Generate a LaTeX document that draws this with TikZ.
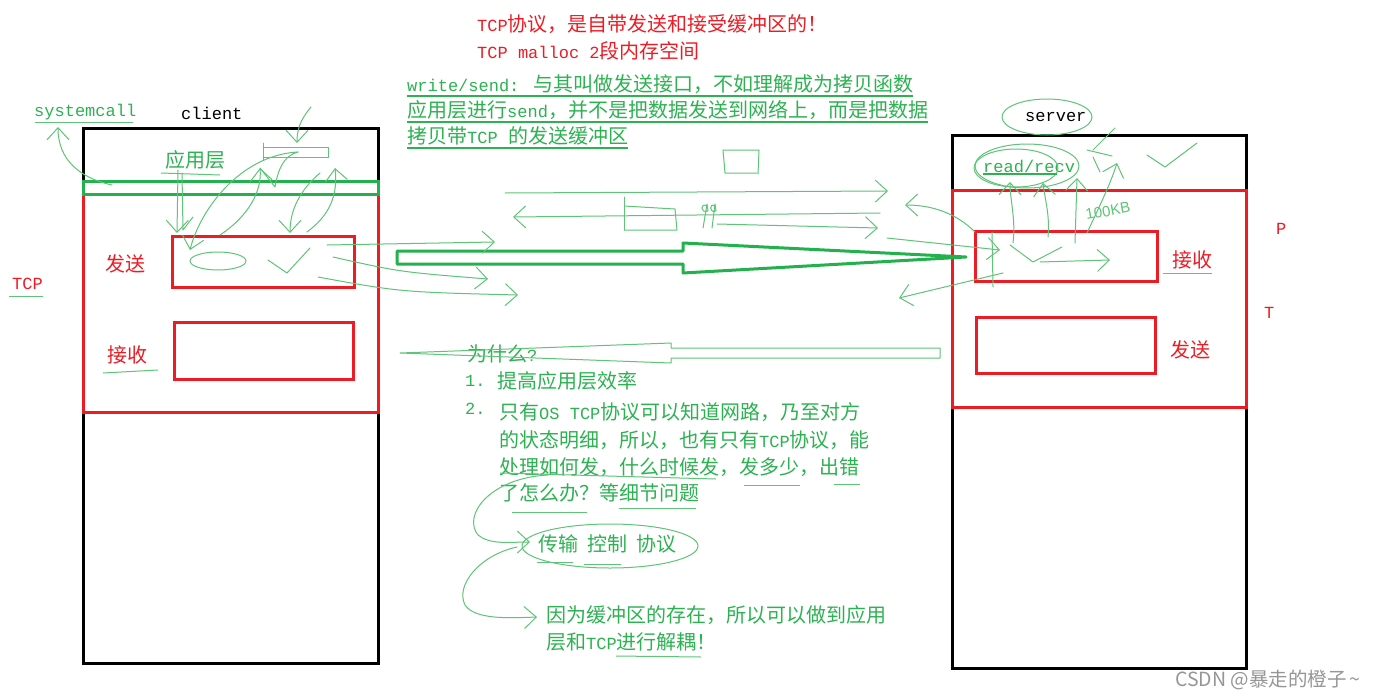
\documentclass[tikz,border=0pt]{standalone}
\usepackage{fontspec}
\setmainfont{Noto Sans CJK SC}
\newfontfamily\monof{Liberation Mono}[Scale=0.85]
\newfontfamily\handf{Liberation Sans}
\usetikzlibrary{arrows.meta,calc}
\definecolor{tred}{RGB}{237,28,36}
\definecolor{tgreen}{RGB}{34,177,76}
\definecolor{txtg}{RGB}{45,178,82}
\definecolor{skc}{RGB}{95,195,120}
\definecolor{wmc}{RGB}{150,150,150}
\newcommand{\m}[1]{{\monof #1}}
\begin{document}
\begin{tikzpicture}[x=1pt,y=-1pt,
  lbl/.style={anchor=west,inner sep=0pt,font=\fontsize{20}{24}\selectfont},
  redt/.style={lbl,text=tred},
  grnt/.style={lbl,text=txtg},
  blkt/.style={lbl,text=black},
  blackbox/.style={draw=black,line width=3pt,inner sep=0pt},
  redbox/.style={draw=tred,line width=3pt,inner sep=0pt},
  greenbox/.style={draw=tgreen,line width=3pt,inner sep=0pt},
  sk/.style={draw=skc,line width=1pt,line cap=round,line join=round},
  ska/.style={sk,-{Straight Barb[length=12pt,width=22pt]}},
  ul/.style={draw=skc,line width=1pt}
]
\useasboundingbox[fill=white] (0,0) rectangle (1378,699);

% ---------------- client ----------------
\node[blackbox,minimum width=295pt,minimum height=535pt] (client) at (230.5,395.5) {};
\node[redbox,minimum width=295pt,minimum height=218pt] (ctcp) at (230.5,303) {};
\node[greenbox,minimum width=295pt,minimum height=13pt] (strip) at (230.5,187.5) {};
\node[redbox,minimum width=182pt,minimum height=51pt] (csend) at (263,261.5) {};
\node[redbox,minimum width=179pt,minimum height=57pt] (crecv) at (263.5,350.5) {};

\node[blkt] (clientlbl) at (181,113) {\m{client}};
\node[grnt] (syscall) at (34,112) {\m{systemcall}};
\node[grnt] (app) at (165,160) {应用层};
\node[redt] (csendl) at (105,264) {发送};
\node[redt] (crecvl) at (107,355) {接收};
\node[redt] (ctcpl) at (12,284) {\m{TCP}};

% ---------------- server ----------------
\node[blackbox,minimum width=294pt,minimum height=533pt] (server) at (1099,401.5) {};
\node[redbox,minimum width=294pt,minimum height=217pt] (stcp) at (1099,298.5) {};
\node[redbox,minimum width=182pt,minimum height=50pt] (srecv) at (1066,256) {};
\node[redbox,minimum width=179pt,minimum height=56pt] (ssend) at (1065.5,345) {};

\node[blkt] (serverlbl) at (1025,117) {\m{server}};
\node[grnt] (readrecv) at (983,166) {\m{read/recv}};
\node[redt] (srecvl) at (1172,260) {接收};
\node[redt] (ssendl) at (1170,350) {发送};
\node[redt] (pcut) at (1276,229) {\m{P}};
\node[redt] (tcut) at (1264,313) {\m{T}};

% ---------------- top texts ----------------
\node[redt] (t1) at (477,24) {\m{TCP}协议，是自带发送和接受缓冲区的！};
\node[redt] (t2) at (477,51) {\m{TCP malloc 2}段内存空间};
\node[grnt] (g1) at (407,84) {\m{write/send: }与其叫做发送接口，不如理解成为拷贝函数};
\node[grnt] (g2) at (407,110) {应用层进行\m{send}，并不是把数据发送到网络上，而是把数据};
\node[grnt] (g3) at (407,136) {拷贝带\m{TCP }的发送缓冲区};
\foreach \n in {g1,g2,g3}
  \draw[draw=txtg,line width=1.2pt] ([yshift=-12pt]\n.west) -- ([yshift=-12pt]\n.east);

% ---------------- lower texts ----------------
\node[grnt] (why) at (467,354) {为什么\m{?}};
\node[grnt] (n1) at (465,381) {\m{1.}};
\node[grnt] (r1) at (497,381) {提高应用层效率};
\node[grnt] (n2) at (465,409) {\m{2.}};
\node[grnt] (r2a) at (499,412) {只有\m{OS TCP}协议可以知道网路，乃至对方};
\node[grnt] (r2b) at (499,440) {的状态明细，所以，也有只有\m{TCP}协议，能};
\node[grnt] (r2c) at (499,467) {处理如何发，什么时候发，发多少，出错};
\node[grnt] (r2d) at (499,493) {了怎么办？等细节问题};
\node[grnt] (tcpname) at (538,544) {传输\ \ 控制\ \ 协议};
\node[grnt] (dec1) at (546,615) {因为缓冲区的存在，所以可以做到应用};
\node[grnt] (dec2) at (546,642) {层和\m{TCP}进行解耦！};

\node[anchor=west,inner sep=0pt,text=wmc,font=\fontsize{19.5}{21}\selectfont] (wm) at (1175,680) {CSDN @暴走的橙子\,\textasciitilde};

% ---------------- big hollow arrow ----------------
\draw[tgreen,line width=3pt,line join=round] (397,251) -- (683,251) -- (683,243) -- (966,257) -- (683,273) -- (683,264) -- (397,264) -- cycle;

% hollow arrow "why"
\draw[sk] (940,348) -- (671,348) -- (671,343) -- (400,353) -- (671,363) -- (671,358) -- (940,358) -- cycle;

% ---------------- client scribbles ----------------
\draw[ul] (35,122) -- (133,122);
\draw[ska] (112,185) .. controls (80,178) and (58,160) .. (58,127);
\draw[ul] (161,173) -- (220,175);
\draw[ul] (9,296) -- (43,296);
\draw[ul] (103,373) -- (158,370);
\draw[sk] (263,143) -- (263,160);
\draw[sk] (263,147) -- (328,147) -- (328,157) -- (263,157);
\draw[ska] (311,107) .. controls (300,120) and (297,130) .. (297,143);
\draw[ska] (178,170) -- (177,233);
\draw[sk] (182,173) -- (183,230) -- (193,217);
\draw[ska] (298,152) .. controls (240,155) and (200,210) .. (190,250);
\draw[ska] (220,235) .. controls (250,215) and (262,190) .. (260,168);
\draw[sk] (260,168) -- (275,187) .. controls (278,170) and (283,156) .. (298,152);
\draw[ska] (320,173) .. controls (300,190) and (290,210) .. (290,233);
\draw[ska] (307,232) .. controls (330,215) and (338,195) .. (335,168);
\draw[sk] (218,261) ellipse [x radius=28pt,y radius=9pt];
\draw[sk] (268,260) -- (287,273) -- (310,248);

% ---------------- middle scribbles ----------------
\draw[ska] (327,245) -- (495,242);
\draw[ska] (333,257) .. controls (400,272) .. (488,279);
\draw[ska] (318,277) .. controls (400,292) .. (518,295);
\draw[ska] (505,193) -- (888,191);
\draw[ska] (880,213) -- (513,217);
\draw[sk] (624,197) -- (624,230);
\draw[sk] (624,206) -- (675,209) -- (677,230) -- (624,230);
\draw[sk] (707,206) .. controls (700,202) and (700,214) .. (708,211) -- (707,204) -- (703,228);
\draw[sk] (715,206) .. controls (709,202) and (709,214) .. (716,211) -- (715,204) -- (712,228);
\draw[ska] (717,224) -- (878,228);
\draw[sk] (723,150) -- (725,173) -- (757,173);
\draw[sk] (723,150) -- (759,150) -- (758,174);

% ---------------- server scribbles ----------------
\draw[ska] (975,232) .. controls (955,212) and (930,205) .. (905,205);
\draw[ska] (887,238) -- (1000,250);
\draw[ska] (1003,273) -- (899,298);
\draw[sk] (992,232) -- (993,287);
\draw[sk] (1047,117) ellipse [x radius=45pt,y radius=18pt];
\draw[sk] (1027,166) ellipse [x radius=52pt,y radius=22pt];
\draw[sk] (1016,168) ellipse [x radius=42pt,y radius=19pt];
\draw[draw=txtg,line width=1.2pt] (983,174) -- (1057,174);
\draw[ska] (1013,243) .. controls (1016,220) and (1010,200) .. (1010,182);
\draw[ska] (1048,237) .. controls (1050,215) and (1045,200) .. (1043,183);
\draw[ska] (1075,243) -- (1077,178);
\draw[ska] (1087,233) .. controls (1100,205) and (1110,185) .. (1117,163);
\draw[sk] (1115,128) -- (1093,150);
\draw[sk] (1087,150) -- (1112,156);
\draw[sk] (1093,157) -- (1100,172);
\draw[sk] (1147,155) -- (1165,167) -- (1197,143);
\draw[sk] (1010,245) -- (1033,262) -- (1062,247);
\draw[ska] (1040,262) -- (1110,260);
\draw[ul] (1163,273) -- (1212,273);
\node[inner sep=0pt,text=skc,font=\handf\fontsize{15}{15}\selectfont,rotate=10] (kb) at (1108,211) {100KB};

% ---------------- lower scribbles ----------------
\draw[ul] (500,473) -- (716,479);
\draw[ul] (744,485) -- (800,485);
\draw[ul] (834,484) -- (860,484);
\draw[ul] (512,512) -- (587,512);
\draw[ul] (619,508) -- (696,508);
\draw[ul] (537,562) -- (573,562);
\draw[ul] (584,564) -- (621,564);
\draw[ul] (616,656) -- (701,657);
\draw[ska] (548,475) .. controls (490,478) and (462,515) .. (478,535) .. controls (490,545) and (510,542) .. (530,542);
\draw[sk] (610,546) ellipse [x radius=88pt,y radius=22pt];
\draw[ska] (517,547) .. controls (480,555) and (455,585) .. (465,605) .. controls (475,620) and (510,618) .. (537,617);
\end{tikzpicture}
\end{document}
